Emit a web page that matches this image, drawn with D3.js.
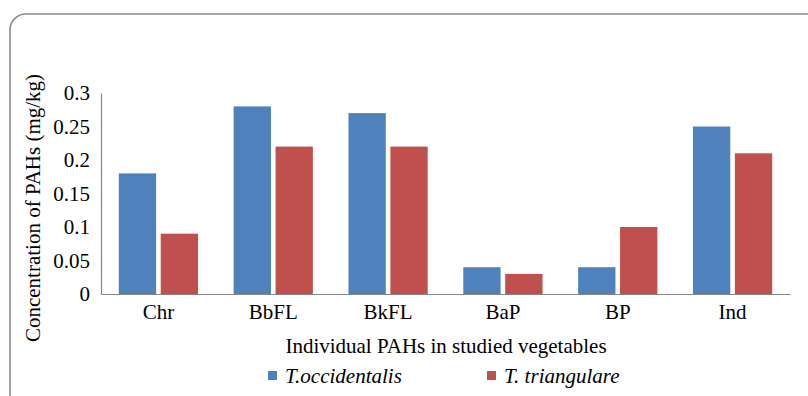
<!DOCTYPE html>
<html><head><meta charset="utf-8">
<script src="https://cdn.jsdelivr.net/npm/d3@7"></script>
<style>html,body{margin:0;padding:0;background:#fff;}svg{display:block;}
svg text{font-family:"Liberation Serif","Times New Roman",Times,serif !important;}</style>
</head><body>
<script>
const categories = ["Chr", "BbFL", "BkFL", "BaP", "BP", "Ind"];
const seriesNames = ["T.occidentalis", "T. triangulare"];
const occidentalis = [0.18, 0.28, 0.27, 0.04, 0.04, 0.25];
const triangulare = [0.09, 0.22, 0.22, 0.03, 0.10, 0.21];
const yTicks = [0, 0.05, 0.1, 0.15, 0.2, 0.25, 0.3];
const yTickLabels = ["0", "0.05", "0.1", "0.15", "0.2", "0.25", "0.3"];
const colors = ["#4F81BD", "#C0504D"];
const xTitle = "Individual PAHs in studied vegetables";
const yTitle = "Concentration of PAHs (mg/kg)";

const W = 808, H = 396;
const FS = 21;
const svg = d3.select("body").append("svg").attr("width", W).attr("height", H);

// outer rounded frame
svg.append("rect").attr("x", 10).attr("y", 14).attr("width", 840).attr("height", 440)
  .attr("rx", 16).attr("fill", "none").attr("stroke", "#8a8a8a").attr("stroke-width", 1.6);

const plot = {left: 101, right: 790, top: 93, bottom: 294};
const x = d3.scaleBand().domain(categories).range([plot.left, plot.right]).paddingInner(0.31).paddingOuter(0.155);
const xs = d3.scaleBand().domain(seriesNames).range([0, x.bandwidth()]).paddingInner(0.11);
const y = d3.scaleLinear().domain([0, 0.3]).range([plot.bottom, plot.top]);

const data = [occidentalis, triangulare];
seriesNames.forEach((s, si) => {
  svg.append("g").selectAll("rect").data(categories).join("rect")
    .attr("x", c => x(c) + xs(s))
    .attr("y", (c, i) => y(data[si][i]))
    .attr("width", xs.bandwidth())
    .attr("height", (c, i) => y(0) - y(data[si][i]))
    .attr("fill", colors[si]);
});

// y axis
const yAxis = d3.axisLeft(y).tickValues(yTicks).tickSize(0).tickPadding(11)
  .tickFormat((d, i) => yTickLabels[i]);
const gy = svg.append("g").attr("transform", `translate(${plot.left},0)`).call(yAxis);
gy.attr("font-family", null);
gy.select(".domain").attr("stroke", "#868686").attr("stroke-width", 1.2);
gy.selectAll("text").attr("font-size", FS).attr("fill", "#000");

// x axis
const xAxis = d3.axisBottom(x).tickSize(0).tickPadding(10);
const gx = svg.append("g").attr("transform", `translate(0,${plot.bottom})`).call(xAxis);
gx.attr("font-family", null);
gx.select(".domain").attr("stroke", "#868686").attr("stroke-width", 1.2);
gx.selectAll("text").attr("font-size", FS).attr("fill", "#000");

// titles
svg.append("text").attr("x", 446).attr("y", 353).attr("text-anchor", "middle")
  .attr("font-size", FS).text(xTitle);
svg.append("text").attr("transform", "translate(40,208) rotate(-90)").attr("text-anchor", "middle")
  .attr("font-size", FS).text(yTitle);

// legend
const legX = [268, 487];
seriesNames.forEach((s, i) => {
  svg.append("rect").attr("x", legX[i]).attr("y", 371).attr("width", 9).attr("height", 9).attr("fill", colors[i]);
  svg.append("text").attr("x", legX[i] + 17).attr("y", 383)
    .attr("font-size", FS).attr("font-style", "italic").text(s);
});
</script>
</body></html>
